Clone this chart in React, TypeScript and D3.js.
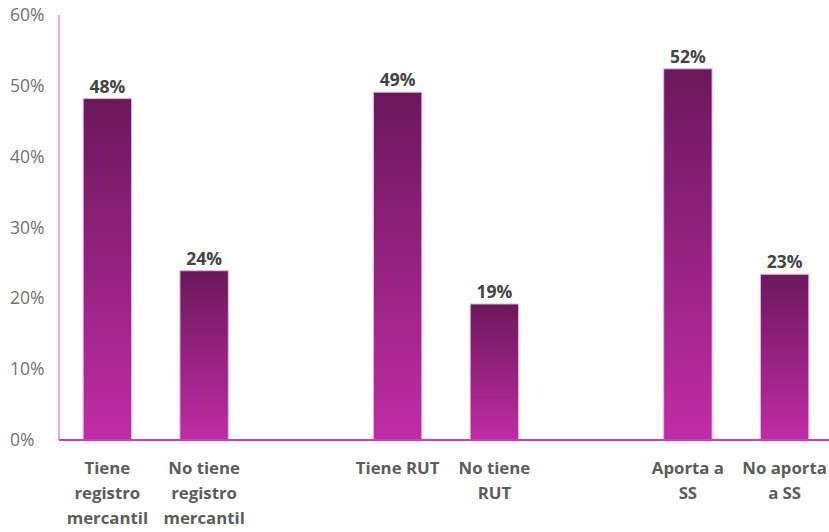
import React from "react";
import * as d3 from "d3";

const categories = [
  "Tiene\nregistro\nmercantil",
  "No tiene\nregistro\nmercantil",
  "Tiene RUT",
  "No tiene\nRUT",
  "Aporta a\nSS",
  "No aporta\na SS",
];
const groupOf = [0, 0, 1, 1, 2, 2];
const values = [0.482, 0.239, 0.491, 0.192, 0.524, 0.234];
const yTicks = [0, 0.1, 0.2, 0.3, 0.4, 0.5, 0.6];

const W = 829;
const H = 532;
const margin = { left: 59, right: -4, top: 15, bottom: 92 };
const FONT = "'Open Sans', Lato, sans-serif";

export default function App() {
  const slots: string[] = [];
  categories.forEach((c, i) => {
    if (i > 0 && groupOf[i] !== groupOf[i - 1]) slots.push(`__gap${i}`);
    slots.push(c);
  });

  const x = d3
    .scaleBand<string>()
    .domain(slots)
    .range([margin.left, W - margin.right])
    .paddingInner(0.5)
    .paddingOuter(0.25);
  const y = d3
    .scaleLinear()
    .domain([0, 0.6])
    .range([H - margin.bottom, margin.top]);

  const fmt = d3.format(".0%");
  const y0 = y(0);

  return (
    <svg
      width={W}
      height={H}
      style={{ position: "absolute", left: 0, top: 0, background: "#fff" }}
      fontFamily={FONT}
    >
      <defs>
        <linearGradient id="barGrad" x1="0" y1="0" x2="0" y2="1">
          <stop offset="0%" stopColor="#6b185b" />
          <stop offset="100%" stopColor="#c12ca5" />
        </linearGradient>
      </defs>
      {yTicks.map((t) => (
        <text
          key={t}
          x={10}
          y={y(t)}
          dy="0.35em"
          fontSize={17.5}
          fill="#717171"
          textAnchor="start"
        >
          {fmt(t)}
        </text>
      ))}
      <line
        x1={margin.left}
        x2={margin.left}
        y1={y(0.6)}
        y2={y0}
        stroke="#e3a6da"
        strokeWidth={2}
      />
      {categories.map((c, i) => {
        const bx = x(c)!;
        const by = y(values[i]);
        const cx = bx + x.bandwidth() / 2;
        return (
          <g key={c}>
            <rect
              x={bx}
              y={by}
              width={x.bandwidth()}
              height={y0 - by}
              fill="url(#barGrad)"
              stroke="#e6b4de"
              strokeWidth={1}
            />
            <text
              x={cx}
              y={by - 6}
              textAnchor="middle"
              fontSize={17.5}
              fontWeight="bold"
              fill="#444444"
            >
              {fmt(values[i])}
            </text>
            <text
              x={cx}
              y={y0 + 34}
              textAnchor="middle"
              fontSize={16.8}
              fontWeight="bold"
              fill="#5c5c5c"
            >
              {c.split("\n").map((line, k) => (
                <tspan key={k} x={cx} dy={k === 0 ? 0 : 25}>
                  {line}
                </tspan>
              ))}
            </text>
          </g>
        );
      })}
      <line
        x1={margin.left}
        x2={W}
        y1={y0}
        y2={y0}
        stroke="#c445b4"
        strokeWidth={2}
      />
    </svg>
  );
}
